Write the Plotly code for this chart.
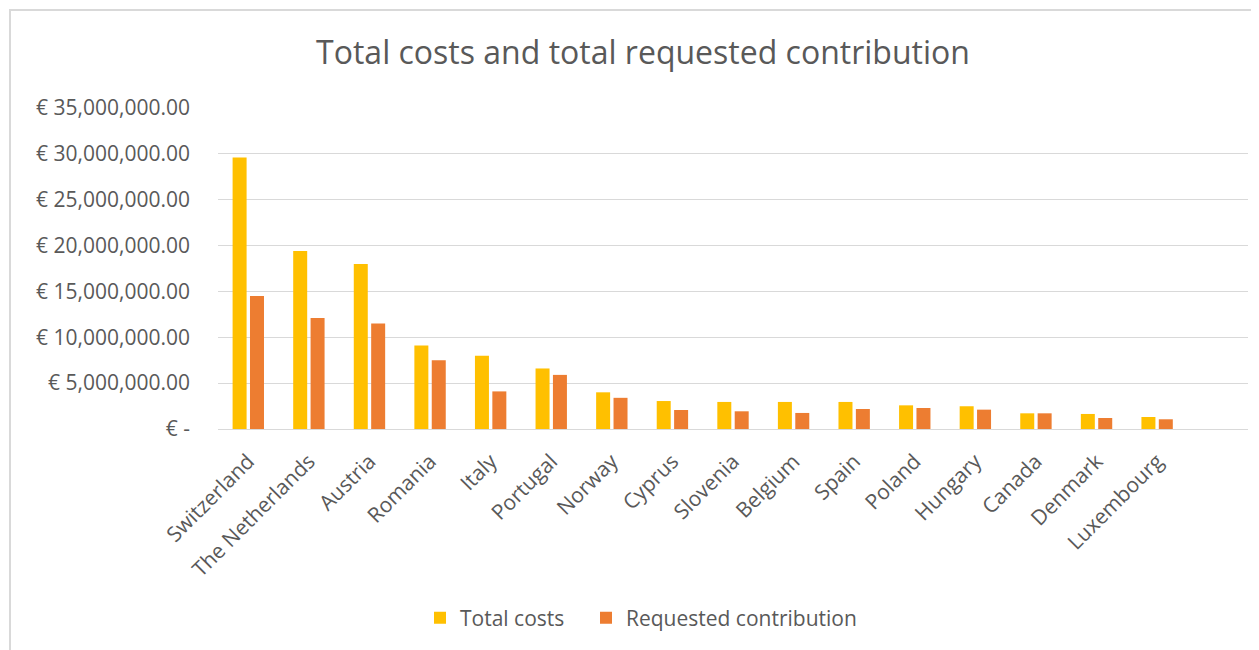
import plotly.graph_objects as go

countries = ["Switzerland", "The Netherlands", "Austria", "Romania", "Italy", "Portugal",
             "Norway", "Cyprus", "Slovenia", "Belgium", "Spain", "Poland", "Hungary",
             "Canada", "Denmark", "Luxembourg", " "]
total_costs = [29.6e6, 19.4e6, 18.0e6, 9.1e6, 8.0e6, 6.6e6, 4.0e6, 3.05e6, 2.95e6,
               2.95e6, 2.95e6, 2.58e6, 2.48e6, 1.71e6, 1.64e6, 1.31e6, None]
requested = [14.5e6, 12.1e6, 11.5e6, 7.5e6, 4.1e6, 5.9e6, 3.4e6, 2.07e6, 1.93e6,
             1.75e6, 2.18e6, 2.29e6, 2.11e6, 1.71e6, 1.2e6, 1.06e6, None]
tick_vals = [0, 5e6, 10e6, 15e6, 20e6, 25e6, 30e6, 35e6]
tick_text = ["€ -", "€ 5,000,000.00", "€ 10,000,000.00", "€ 15,000,000.00",
             "€ 20,000,000.00", "€ 25,000,000.00", "€ 30,000,000.00", "€ 35,000,000.00"]

FONT = "Open Sans"
GREY = "#595959"

fig = go.Figure()
fig.add_trace(go.Bar(name="Total costs", x=countries, y=total_costs, legend="legend",
                     showlegend=True,
                     marker=dict(color="#FFC000", line=dict(width=0))))
fig.add_trace(go.Bar(name="Requested contribution", x=countries, y=requested, legend="legend2",
                     showlegend=True,
                     marker=dict(color="#ED7D31", line=dict(width=0))))

OFF = 8  # page body margin offset
L, R, T, B = 210, 19, 100, 229
W, H = 1259, 650
pw, ph = W - L - R, H - T - B

def px_x(p):
    return (p - OFF - L) / pw

def px_y(p):
    return (H - B - (p - OFF)) / ph

legend_common = dict(orientation="h", xanchor="left", y=px_y(618), yanchor="middle",
                     bgcolor="rgba(0,0,0,0)", font=dict(size=21, color=GREY), itemwidth=30)

fig.update_layout(
    width=W, height=H, showlegend=True,
    margin=dict(l=L, r=R, t=T, b=B, autoexpand=False),
    paper_bgcolor="white", plot_bgcolor="white",
    barmode="group", bargap=0.426, bargroupgap=0.195,
    font=dict(family=FONT, color=GREY, size=21),
    title=dict(text="Total costs and total requested contribution",
               x=(643 - OFF) / W, xanchor="center", y=1 - (53 - OFF) / H, yanchor="middle",
               font=dict(family=FONT, size=32, color=GREY)),
    xaxis=dict(type="category", categoryorder="array", categoryarray=countries,
               range=[-0.5, 16.5], tickangle=-45, showgrid=False, showline=False,
               ticks="", ticklabelstandoff=15, tickfont=dict(size=21, color=GREY)),
    yaxis=dict(range=[0, 35e6], tickvals=tick_vals, ticktext=tick_text,
               showgrid=True, gridcolor="#d9d9d9", gridwidth=1,
               zeroline=True, zerolinecolor="#d9d9d9", zerolinewidth=1,
               showline=False, ticks="", ticklabelstandoff=27,
               tickfont=dict(size=21, color=GREY)),
    legend=dict(x=px_x(420), **legend_common),
    legend2=dict(x=px_x(586), **legend_common),
    shapes=[dict(type="rect", xref="paper", yref="paper",
                 x0=px_x(10), x1=px_x(1320), y0=px_y(10), y1=px_y(720),
                 line=dict(color="#d9d9d9", width=2), fillcolor="rgba(0,0,0,0)",
                 layer="below")],
)

fig.write_html("out.html")
